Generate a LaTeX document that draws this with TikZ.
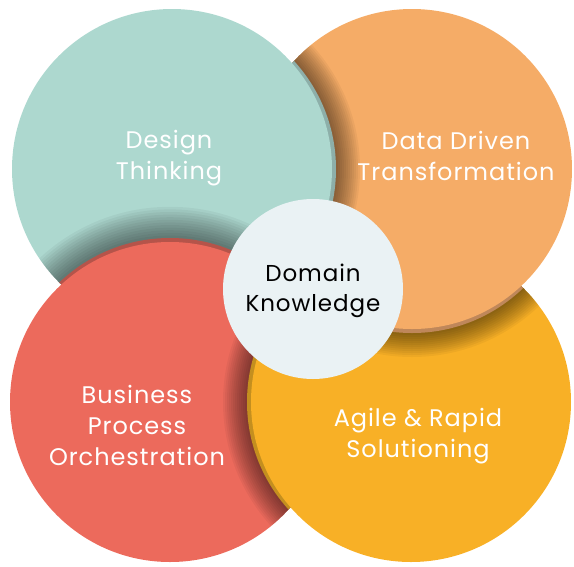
\documentclass[tikz,border=0pt]{standalone}
\usepackage{fontspec}
\setmainfont[LetterSpace=4]{Poppins}
\usetikzlibrary{calc}
\definecolor{tealc}{HTML}{ADD8CF}
\definecolor{tealrim}{HTML}{8DAFA9}
\definecolor{orac}{HTML}{F5AC67}
\definecolor{orarim}{HTML}{BF875A}
\definecolor{redc}{HTML}{EC6A5C}
\definecolor{redrim}{HTML}{B5544A}
\definecolor{yelc}{HTML}{F8B026}
\definecolor{yelrim}{HTML}{C48F1F}
\definecolor{cenc}{HTML}{EAF2F4}
\newcommand{\castshadow}[6]{% #1 lower, #2 upper, #3 dx, #4 dy, #5 rim colour, #6 step
  \begin{scope}
    \clip (#1) circle[radius=160pt];
    \foreach \i in {1,...,12} {
      \fill[black, fill opacity=0.042] ($(#2)+(#3,#4)$) circle[radius={160pt+\i*#6}];
    }
    \fill[#5] ($(#2)+(#3,#4)$) circle[radius=160pt];
  \end{scope}}
\tikzset{
  label/.style={text=white, align=center, font=\fontsize{24}{31}\selectfont},
  clabel/.style={text=black, align=center, font=\fontsize{23}{29.5}\selectfont},
}
\begin{document}
\begin{tikzpicture}[x=1pt,y=-1pt]
\useasboundingbox (0,0) rectangle (574,566);
\coordinate (T) at (172,169);
\coordinate (O) at (412,169);
\coordinate (Rd) at (170,402);
\coordinate (Y) at (411,402);
\coordinate (C) at (313,289);
% yellow base
\fill[yelc] (Y) circle[radius=160pt];
% orange over yellow
\castshadow{Y}{O}{0}{4}{orarim}{2pt}
\fill[orac] (O) circle[radius=160pt];
% teal over orange
\castshadow{O}{T}{4}{0}{tealrim}{2pt}
\fill[tealc] (T) circle[radius=160pt];
% red over teal
\castshadow{T}{Rd}{0}{-4}{redrim}{2.6pt}
\fill[redc] (Rd) circle[radius=160pt];
% yellow over red
\castshadow{Rd}{Y}{-4}{0}{yelrim}{2pt}
\begin{scope}
  \clip (Rd) circle[radius=161.5pt];
  \fill[yelc] (Y) circle[radius=160pt];
\end{scope}
% centre
\fill[cenc] (C) circle[radius=90pt];
% labels
\node[label] (design) at (169,158) {Design\\Thinking};
\node[label] (data) at (456,156) {Data Driven\\Transformation};
\node[label] (biz) at (137,425) {Business\\Process\\Orchestration};
\node[label] (agile) at (418,436) {Agile \& Rapid\\Solutioning};
\node[clabel] (domain) at (313,291) {Domain\\Knowledge};
\end{tikzpicture}
\end{document}
